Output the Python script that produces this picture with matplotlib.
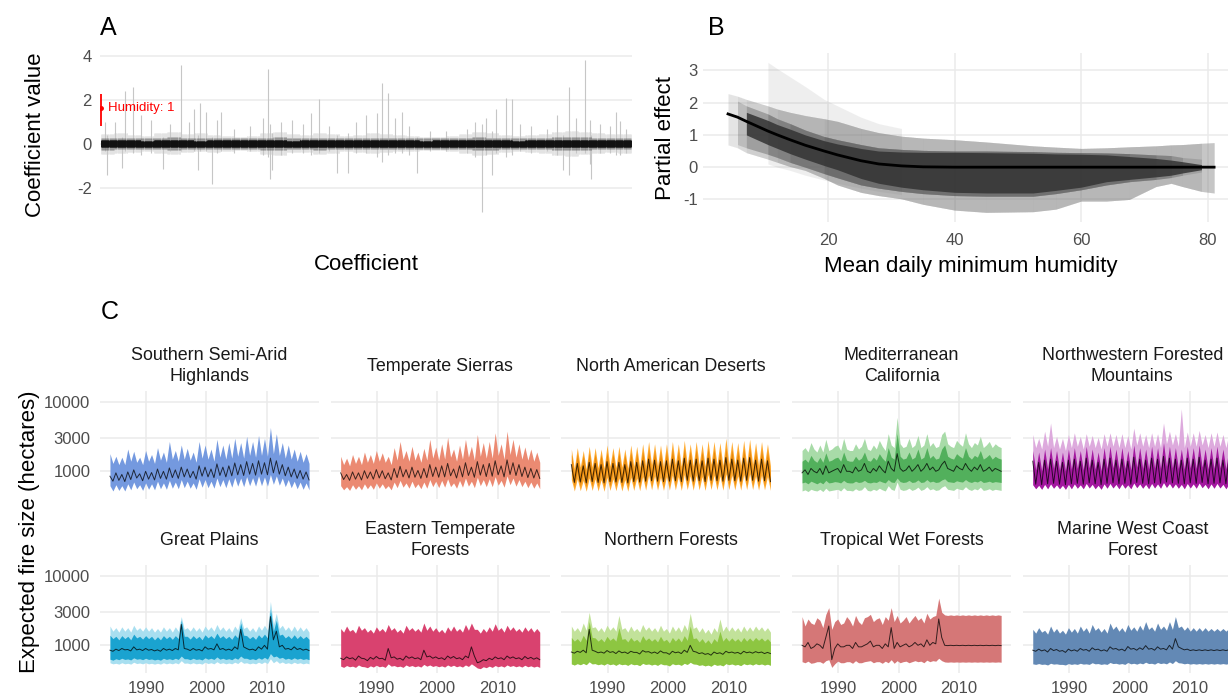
import numpy as np
import matplotlib
matplotlib.use("Agg")
import matplotlib.pyplot as plt

plt.rcParams['font.family'] = ['Liberation Sans', 'DejaVu Sans']
plt.rcParams['axes.unicode_minus'] = False

# ---------------- Panel A data ----------------
n_coef = 1000
n_chunks = 40
band_hi = [0.16, 0.16, 0.16, 0.15, 0.16, 0.16, 0.16, 0.15, 0.16, 0.16, 0.16, 0.16, 0.16, 0.16, 0.15, 0.16, 0.16, 0.16, 0.16, 0.16,
           0.16, 0.16, 0.16, 0.16, 0.15, 0.16, 0.16, 0.16, 0.16, 0.16, 0.16, 0.15, 0.16, 0.16, 0.16, 0.16, 0.16, 0.16, 0.16, 0.16]
band_lo = [-0.14, -0.14, -0.14, -0.14, -0.14, -0.14, -0.14, -0.13, -0.14, -0.14, -0.14, -0.14, -0.14, -0.14, -0.14, -0.14, -0.14, -0.14, -0.13, -0.14,
           -0.14, -0.14, -0.14, -0.14, -0.14, -0.14, -0.14, -0.14, -0.14, -0.14, -0.14, -0.14, -0.14, -0.14, -0.14, -0.14, -0.14, -0.14, -0.14, -0.14]
halo_hi = [0.28, 0.29, 0.28, 0.27, 0.28, 0.3, 0.29, 0.28, 0.28, 0.27, 0.26, 0.27, 0.29, 0.3, 0.28, 0.28, 0.29, 0.28, 0.27, 0.27,
           0.28, 0.28, 0.28, 0.27, 0.26, 0.26, 0.27, 0.28, 0.3, 0.29, 0.28, 0.27, 0.27, 0.28, 0.3, 0.31, 0.3, 0.29, 0.28, 0.28]
halo_lo = [-0.25, -0.24, -0.23, -0.22, -0.24, -0.25, -0.23, -0.22, -0.23, -0.22, -0.21, -0.22, -0.25, -0.26, -0.23, -0.23, -0.25, -0.24, -0.22, -0.23,
           -0.24, -0.23, -0.22, -0.22, -0.21, -0.21, -0.22, -0.24, -0.26, -0.25, -0.23, -0.22, -0.23, -0.24, -0.26, -0.27, -0.25, -0.24, -0.23, -0.24]
fuzz_hi = [0.45, 0.5, 0.42, 0.38, 0.48, 0.55, 0.45, 0.5, 0.42, 0.38, 0.34, 0.36, 0.5, 0.55, 0.45, 0.42, 0.5, 0.45, 0.36, 0.4,
           0.48, 0.45, 0.42, 0.36, 0.33, 0.33, 0.36, 0.45, 0.55, 0.5, 0.42, 0.36, 0.4, 0.45, 0.55, 0.6, 0.55, 0.5, 0.45, 0.45]
fuzz_lo = [-0.45, -0.4, -0.36, -0.32, -0.4, -0.45, -0.36, -0.32, -0.36, -0.32, -0.28, -0.32, -0.45, -0.5, -0.36, -0.36, -0.45, -0.4, -0.32, -0.36,
           -0.4, -0.36, -0.32, -0.32, -0.28, -0.28, -0.32, -0.4, -0.5, -0.45, -0.36, -0.32, -0.36, -0.4, -0.5, -0.55, -0.45, -0.4, -0.36, -0.4]
spike_idx = [8, 12, 27, 40, 45, 61, 75, 95, 117, 130, 150, 165, 175, 182, 186, 198, 210, 218, 226, 250,
             280, 305, 315, 318, 322, 340, 360, 380, 395, 411, 430, 444, 466, 480, 500, 520, 530, 541, 555, 568,
             580, 596, 620, 650, 690, 705, 718, 726, 737, 745, 764, 775, 790, 810, 840, 860, 871, 883, 895, 912,
             921, 923, 940, 960, 971, 979, 990]
spike_lo = [-0.3, -1.4, -0.2, -1.1, -0.3, -0.4, -0.5, -0.4, -1.15, -0.3, -0.3, -0.2, -0.3, -1.2, -0.3, -0.3, -1.8, -0.4, -0.3, -0.4,
            -0.3, -0.5, -0.6, -1.6, -1.2, -0.5, -0.4, -0.4, -0.5, -0.4, -0.3, -1.3, -1.3, -0.4, -0.4, -0.6, -0.8, -0.5, -0.4, -0.4,
            -0.5, -1.3, -0.3, -0.3, -0.4, -0.6, -3.1, -0.5, -1.4, -0.4, -0.6, -0.5, -0.3, -0.4, -0.3, -0.5, -1.2, -1.4, -0.4, -0.4,
            -0.9, -1.6, -0.4, -0.4, -0.5, -0.5, -0.4]
spike_hi = [1.0, 0.4, 1.0, 0.3, 2.4, 2.6, 1.3, 1.1, 0.3, 0.9, 3.57, 1.0, 1.6, 0.4, 1.85, 1.45, 0.3, 1.1, 1.45, 0.7,
            0.8, 1.2, 3.4, 0.9, 0.5, 1.0, 1.1, 0.9, 1.4, 2.05, 0.8, 0.4, 0.5, 1.0, 1.3, 1.4, 2.75, 2.3, 1.2, 1.45,
            0.8, 0.3, 0.6, 0.6, 0.7, 1.0, 0.9, 1.2, 0.6, 1.6, 2.1, 2.05, 0.9, 0.8, 0.7, 1.3, 0.4, 2.6, 1.2, 3.8,
            1.1, 0.4, 0.9, 0.8, 1.45, 1.05, 0.7]
humidity_coef = 1.65
humidity_lo = 0.82
humidity_hi = 2.27

# ---------------- Panel B data ----------------
hum_knots = [4.2, 5.7, 7.1, 10.5, 12, 14, 16.4, 19.4, 21.5, 25.2, 28, 31.6, 35, 40, 45, 52.4, 56, 60, 64, 67.6, 71.8, 74.2, 76, 79, 81]
effect_mean = [1.65, 1.55, 1.42, 1.12, 1.0, 0.85, 0.68, 0.5, 0.38, 0.2, 0.1, 0.04, 0.01, 0, 0, 0, 0, 0, 0, 0, 0, 0, 0, 0, 0]
outer_hi = [2.28, 2.2, 2.1, 1.9, 1.8, 1.7, 1.6, 1.5, 1.42, 1.2, 1.07, 0.96, 0.9, 0.85, 0.78, 0.66, 0.62, 0.58, 0.6, 0.63, 0.66, 0.69, 0.7, 0.74, 0.76]
outer_lo = [0.69, 0.6, 0.45, 0.25, 0.15, 0.02, -0.1, -0.35, -0.55, -0.78, -0.88, -0.98, -1.15, -1.33, -1.4, -1.38, -1.3, -1.05, -1.05, -1.0, -0.6, -0.5, -0.6, -0.75, -0.8]
mid_hi = [2.15, 2.05, 1.9, 1.65, 1.5, 1.35, 1.15, 0.95, 0.85, 0.7, 0.6, 0.55, 0.52, 0.5, 0.5, 0.48, 0.46, 0.45, 0.44, 0.42, 0.38, 0.36, 0.3, 0.25, 0.2]
mid_lo = [0.8, 0.7, 0.6, 0.4, 0.3, 0.15, 0.0, -0.2, -0.33, -0.55, -0.65, -0.75, -0.82, -0.88, -0.9, -0.9, -0.82, -0.7, -0.55, -0.45, -0.38, -0.32, -0.25, -0.15, -0.1]
dark_hi = [1.9, 1.8, 1.7, 1.45, 1.32, 1.18, 1.0, 0.82, 0.72, 0.58, 0.5, 0.47, 0.46, 0.46, 0.45, 0.43, 0.41, 0.4, 0.38, 0.33, 0.27, 0.22, 0.17, 0.08, 0.02]
dark_lo = [1.3, 1.15, 1.0, 0.7, 0.58, 0.42, 0.25, 0.05, -0.08, -0.35, -0.5, -0.62, -0.7, -0.78, -0.8, -0.8, -0.72, -0.62, -0.45, -0.38, -0.3, -0.25, -0.18, -0.08, -0.02]
tall_x = [10.5, 12, 14, 16.4, 19.4, 21.5, 25.2, 28, 31.6]
tall_hi = [3.25, 3.05, 2.8, 2.5, 2.1, 1.9, 1.55, 1.35, 1.2]
tall_lo = [0.1, 0.0, -0.1, -0.25, -0.4, -0.5, -0.65, -0.75, -0.85]
outer_segments = [(4.2, 21.5), (4.2, 16.4), (5.7, 31.6), (7.1, 25.2), (10.5, 40), (12, 35), (16.4, 52.4), (19.4, 45),
                  (21.5, 60), (25.2, 56), (31.6, 67.6), (35, 64), (40, 74.2), (45, 71.8), (52.4, 76), (56, 79),
                  (60, 81), (64, 81), (67.6, 79), (71.8, 81), (74.2, 81), (76, 81)]
mid_segments = [(5.7, 25.2), (7.1, 31.6), (10.5, 40), (14, 52.4), (19.4, 60), (25.2, 67.6), (31.6, 71.8),
                (40, 74.2), (52.4, 76), (60, 79)]
dark_segment = (7.1, 79)

# ---------------- Panel C data (two values per year, 1984-2017) ----------------
ssah_med = [850,720, 950,740, 900,710, 980,760, 1050,800, 920,730, 1000,770, 960,750,
            1080,790, 1000,770, 1120,810, 1050,790, 1150,830, 1080,810, 1000,770, 1200,850,
            1150,830, 1080,810, 1280,870, 1150,830, 1200,860, 1320,890, 1250,870, 1380,910,
            1300,880, 1420,910, 1330,890, 1550,950, 1420,910, 1250,860, 1150,830, 1080,790,
            1030,770, 980,750]
ssah_hi = [1800,1300, 1650,1250, 1600,1250, 2100,1400, 1950,1350, 1600,1250, 2000,1400, 1750,1300,
           2200,1450, 1900,1350, 2700,1500, 2000,1400, 2400,1500, 2150,1450, 1900,1350, 2700,1550,
           2400,1500, 2100,1400, 2900,1600, 2400,1500, 2600,1550, 3000,1650, 2600,1550, 3200,1700,
           2700,1600, 3300,1700, 3000,1650, 4300,1800, 3500,1700, 2600,1550, 2400,1500, 2100,1400,
           1950,1350, 1800,1300]
ssah_lo = [620,520, 640,530, 620,520, 660,540, 700,560, 640,530, 680,550, 660,540,
           720,560, 680,550, 740,570, 700,560, 760,580, 720,570, 680,550, 780,590,
           760,580, 720,570, 800,600, 760,580, 780,590, 820,610, 800,600, 840,620,
           810,610, 860,620, 830,610, 900,650, 860,630, 800,600, 760,580, 720,560,
           700,550, 680,540]

ts_med = [950,760, 900,740, 980,770, 950,750, 1020,790, 980,770, 1060,800, 1020,780,
          950,750, 1100,810, 1180,830, 1060,800, 1150,820, 1030,790, 1100,810, 1250,840,
          1150,820, 1200,830, 1300,860, 1080,800, 1200,830, 1330,870, 1150,820, 1380,880,
          1250,840, 1300,850, 1420,890, 1200,830, 1460,900, 1330,870, 1250,840, 1150,810,
          1100,800, 1060,790]
ts_hi = [1650,1250, 1550,1200, 1750,1300, 1650,1250, 1900,1350, 1750,1300, 2000,1400, 1850,1350,
         1650,1250, 2200,1450, 2700,1500, 2000,1400, 2300,1450, 1900,1350, 2150,1450, 2900,1550,
         2250,1450, 2500,1500, 3100,1600, 2100,1400, 2400,1500, 2900,1600, 2300,1450, 3400,1650,
         2600,1550, 2700,1550, 3600,1700, 2500,1500, 3800,1750, 2900,1600, 2500,1500, 2250,1450,
         2100,1400, 1900,1350]
ts_lo = [620,540, 600,530, 640,550, 620,540, 660,560, 640,550, 680,570, 660,560,
         620,540, 700,580, 740,590, 680,570, 720,580, 660,560, 700,570, 760,600,
         720,580, 740,590, 780,600, 680,570, 740,590, 800,610, 720,580, 820,620,
         760,600, 780,600, 840,630, 740,590, 860,640, 800,610, 760,600, 720,580,
         700,570, 680,560]

nad_med = [1250,690, 1300,700, 1200,680, 1350,710, 1300,690, 1250,680, 1380,710, 1300,700,
           1350,690, 1250,680, 1380,710, 1350,700, 1420,720, 1500,730, 1450,720, 1380,710,
           1420,720, 1500,730, 1420,710, 1550,740, 1450,720, 1500,730, 1420,710, 1550,740,
           1500,730, 1450,720, 1580,740, 1500,730, 1450,720, 1550,740, 1580,740, 1450,720,
           1500,730, 1420,710]
nad_hi = [2100,1100, 2200,1150, 2000,1080, 2300,1150, 2200,1120, 2100,1100, 2400,1180, 2200,1130,
          2300,1150, 2100,1100, 2400,1180, 2300,1150, 2500,1200, 2700,1250, 2500,1200, 2400,1180,
          2500,1200, 2700,1250, 2500,1180, 2800,1260, 2500,1200, 2700,1250, 2500,1180, 2800,1260,
          2700,1250, 2600,1220, 3000,1280, 2700,1250, 2600,1220, 2800,1260, 2900,1270, 2600,1220,
          2700,1250, 2500,1200]
nad_lo = [760,520, 780,525, 740,515, 800,530, 780,520, 760,515, 820,530, 780,525,
          800,520, 760,515, 820,530, 800,525, 840,535, 880,540, 860,535, 820,530,
          840,535, 880,540, 840,530, 900,545, 860,535, 880,540, 840,530, 900,545,
          880,540, 860,535, 920,545, 880,540, 860,535, 900,545, 920,545, 860,535,
          880,540, 840,530]
nad_mid_hi = [1750,900, 1800,910, 1700,890, 1850,920, 1800,900, 1750,890, 1900,920, 1800,910,
              1850,900, 1750,890, 1900,920, 1850,910, 1950,930, 2100,950, 2000,930, 1900,920,
              1950,930, 2100,950, 1950,920, 2150,960, 2000,930, 2100,950, 1950,920, 2150,960,
              2100,950, 2000,930, 2200,960, 2100,950, 2000,930, 2150,960, 2200,960, 2000,930,
              2100,950, 1950,920]
nad_mid_lo = [1000,600, 1020,605, 960,595, 1050,610, 1020,600, 1000,595, 1080,610, 1020,605,
              1050,600, 1000,595, 1080,610, 1050,605, 1120,615, 1200,625, 1150,615, 1080,610,
              1120,615, 1200,625, 1120,610, 1230,630, 1150,615, 1200,625, 1120,610, 1230,630,
              1200,625, 1150,615, 1280,630, 1200,625, 1150,615, 1230,630, 1280,630, 1150,615,
              1200,625, 1120,610]

mc_med = [950,1050, 900,1100, 1000,950, 1100,900, 1200,950, 1000,1050, 1100,950, 1250,1000,
          1000,950, 1150,1000, 1050,1300, 1000,950, 1100,1000, 1200,1050, 950,1400, 1100,1000,
          1800,1100, 1000,1050, 1200,1000, 1100,1250, 1000,1100, 1300,1050, 1150,1000, 1050,1250,
          1400,1100, 1050,1000, 1200,1100, 1050,1300, 1100,1000, 1150,1050, 1250,1000, 1050,1150,
          1000,1100, 1050,1000]
mc_hi = [2000,2200, 1900,2600, 2100,1900, 2400,1900, 2900,2000, 2100,2300, 2400,2000, 3000,2100,
         2000,2000, 2500,2100, 2300,3000, 2100,2000, 2400,2100, 2800,2300, 2000,3500, 2400,2200,
         6000,2500, 2200,2300, 3000,2200, 2400,3300, 2200,2400, 3500,2300, 2600,2200, 2300,3400,
         3800,2500, 2300,2200, 2800,2500, 2300,3600, 2500,2200, 2600,2400, 3200,2200, 2400,2700,
         2200,2500, 2300,2200]
mc_lo = [520,540, 510,550, 530,520, 550,510, 570,520, 530,540, 550,520, 580,530,
         530,520, 560,530, 540,600, 530,520, 550,530, 570,540, 520,620, 550,530,
         700,550, 530,540, 570,530, 550,590, 530,550, 600,540, 560,530, 540,590,
         620,550, 540,530, 570,550, 540,600, 550,530, 560,540, 590,530, 540,560,
         530,550, 540,530]
mc_mid_hi = [1400,1500, 1350,1700, 1450,1350, 1600,1350, 1850,1400, 1450,1550, 1600,1400, 1900,1450,
             1400,1400, 1650,1450, 1550,1900, 1450,1400, 1600,1450, 1800,1550, 1400,2200, 1600,1500,
             3500,1650, 1500,1550, 1900,1500, 1600,2100, 1500,1600, 2200,1550, 1700,1500, 1550,2100,
             2400,1650, 1550,1500, 1800,1650, 1550,2200, 1650,1500, 1700,1600, 2000,1500, 1600,1750,
             1500,1650, 1550,1500]
mc_mid_lo = [680,700, 660,720, 690,660, 700,660, 740,680, 690,710, 700,680, 740,690,
             680,680, 720,690, 700,740, 690,680, 700,690, 730,700, 680,760, 700,690,
             800,710, 690,700, 740,690, 700,750, 690,700, 760,700, 720,690, 700,750,
             780,710, 700,690, 730,710, 700,760, 710,690, 720,700, 740,690, 700,720,
             690,710, 700,690]

nwfm_med = [1400,650, 1350,640, 1450,660, 1500,670, 1400,650, 1350,640, 1450,660, 1500,670,
            1400,650, 1550,680, 1450,660, 1350,640, 1500,670, 1550,680, 1450,660, 1500,670,
            1400,650, 1600,690, 1500,670, 1450,660, 1550,680, 1500,670, 1650,700, 1550,680,
            1500,670, 1450,660, 1550,680, 1500,670, 1600,690, 1450,660, 1500,670, 1550,680,
            1450,660, 1500,670]
nwfm_hi = [3400,2200, 3000,2100, 3800,2300, 5000,2200, 3200,2100, 3000,2000, 3400,2200, 3600,2300,
           3200,2100, 3500,2300, 3300,2200, 3100,2100, 3500,2300, 3600,2300, 3400,2200, 3500,2200,
           3300,2100, 4200,2400, 3600,2300, 3400,2200, 3600,2300, 3500,2200, 5000,2500, 3800,2400,
           3500,2300, 8000,2200, 3700,2300, 3600,2300, 3900,2400, 3400,2200, 3600,2300, 3700,2300,
           3400,2200, 3500,2200]
nwfm_lo = [640,560, 630,550, 650,560, 660,570, 640,560, 630,550, 650,560, 660,570,
           640,560, 670,575, 650,560, 630,550, 660,570, 670,575, 650,560, 660,570,
           640,560, 680,580, 660,570, 650,560, 670,575, 660,570, 690,585, 670,575,
           660,570, 650,560, 670,575, 660,570, 680,580, 650,560, 660,570, 670,575,
           650,560, 660,570]
nwfm_mid_hi = [2000,1050, 1900,1020, 2100,1080, 2200,1100, 2000,1050, 1900,1020, 2100,1080, 2200,1100,
               2000,1050, 2300,1120, 2100,1080, 1900,1020, 2200,1100, 2300,1120, 2100,1080, 2200,1100,
               2000,1050, 2400,1150, 2200,1100, 2100,1080, 2300,1120, 2200,1100, 2600,1180, 2300,1120,
               2200,1100, 2100,1080, 2300,1120, 2200,1100, 2400,1150, 2100,1080, 2200,1100, 2300,1120,
               2100,1080, 2200,1100]

gp_med = [850,820, 880,840, 900,860, 870,830, 950,860, 880,840, 900,850, 870,830,
          860,820, 900,850, 880,840, 900,860, 2000,900, 880,840, 900,850, 870,830,
          950,880, 900,860, 1050,870, 900,850, 880,840, 950,880, 1700,950, 900,860,
          880,840, 950,880, 1000,880, 2600,1200, 1600,950, 1000,880, 900,860, 950,870,
          900,850, 880,840]
gp_hi = [1900,1600, 1800,1550, 1850,1600, 1800,1550, 1950,1650, 1800,1600, 1850,1600, 1800,1550,
         1750,1550, 1850,1600, 1800,1550, 1850,1600, 2600,1700, 1800,1600, 1850,1600, 1800,1550,
         1900,1650, 1850,1600, 2000,1650, 1850,1600, 1800,1550, 1900,1650, 2500,1750, 1850,1600,
         1800,1550, 1900,1650, 1950,1650, 4300,2000, 2900,1750, 1950,1650, 1850,1600, 1900,1600,
         1850,1600, 1800,1550]
gp_lo = [560,540, 550,535, 560,540, 550,535, 570,545, 555,540, 560,540, 550,535,
         550,535, 560,540, 555,540, 560,540, 600,550, 555,540, 560,540, 550,535,
         570,545, 560,540, 580,545, 560,540, 555,540, 570,545, 590,550, 560,540,
         555,540, 570,545, 575,545, 640,560, 600,550, 575,545, 560,540, 570,545,
         560,540, 555,540]
gp_mid_hi = [1400,1250, 1350,1200, 1380,1250, 1350,1200, 1450,1280, 1350,1230, 1380,1250, 1350,1200,
             1330,1200, 1380,1250, 1350,1220, 1380,1250, 2300,1350, 1350,1230, 1380,1250, 1350,1200,
             1420,1280, 1380,1250, 1500,1280, 1380,1250, 1350,1220, 1420,1280, 2100,1400, 1380,1250,
             1350,1220, 1420,1280, 1450,1280, 3300,1600, 2300,1400, 1450,1280, 1380,1250, 1420,1250,
             1380,1250, 1350,1220]
gp_mid_lo = [630,610, 640,620, 650,625, 635,615, 660,630, 640,620, 650,625, 635,615,
             630,610, 650,625, 640,620, 650,625, 700,640, 640,620, 650,625, 635,615,
             660,630, 650,625, 680,630, 650,625, 640,620, 660,630, 700,650, 650,625,
             640,620, 660,630, 670,630, 760,680, 700,650, 670,630, 650,625, 660,630,
             650,625, 640,620]

etf_med = [650,620, 680,640, 660,610, 700,650, 640,600, 670,630, 690,640, 650,610,
           900,660, 680,630, 650,610, 700,650, 680,640, 660,620, 850,680, 700,650,
           680,640, 660,620, 700,650, 690,640, 660,620, 700,660, 950,700, 560,580,
           620,600, 650,620, 680,640, 660,620, 700,650, 680,640, 660,620, 690,640,
           670,630, 660,620]
etf_hi = [1750,1550, 1900,1600, 1700,1500, 1950,1650, 1800,1550, 1700,1500, 1850,1600, 1750,1550,
          2000,1650, 1800,1550, 1700,1500, 1950,1650, 1800,1600, 1750,1550, 2100,1650, 1900,1600,
          1800,1550, 1700,1500, 1850,1600, 1900,1600, 1750,1550, 2000,1650, 2100,1700, 1700,1500,
          1750,1550, 1850,1600, 2050,1650, 1800,1550, 1950,1650, 1850,1600, 1750,1550, 1850,1600,
          1800,1550, 1750,1550]
etf_lo = [500,480, 510,490, 500,480, 520,495, 490,475, 505,485, 515,490, 500,480,
          540,500, 510,490, 500,480, 520,495, 510,490, 505,485, 530,500, 520,495,
          510,490, 505,485, 520,495, 515,490, 505,485, 520,495, 540,505, 470,460,
          490,475, 500,480, 510,490, 505,485, 520,495, 510,490, 505,485, 515,490,
          505,485, 500,480]

nf_med = [800,770, 820,790, 850,780, 1700,850, 820,780, 800,770, 840,790, 810,760,
          830,780, 800,760, 820,790, 790,750, 840,800, 810,770, 800,760, 830,780,
          780,740, 820,780, 800,760, 850,790, 1000,820, 800,760, 780,740, 760,720,
          800,760, 780,740, 820,780, 800,770, 790,750, 820,780, 800,770, 810,780,
          800,760, 790,760]
nf_hi = [1900,1600, 1800,1550, 2100,1650, 3000,1800, 1850,1600, 1800,1550, 1950,1650, 1850,1600,
         2700,1700, 1800,1550, 1900,1600, 1750,1550, 2000,1650, 1850,1600, 1800,1550, 1950,1600,
         1750,1500, 1900,1600, 1850,1550, 2000,1650, 2900,1750, 1850,1550, 1800,1500, 1700,1450,
         1800,1550, 2400,1600, 1900,1600, 1850,1600, 1800,1550, 1900,1600, 1850,1600, 1900,1650,
         1850,1600, 1800,1550]
nf_lo = [540,520, 545,525, 550,525, 580,540, 545,525, 540,520, 550,525, 540,515,
         545,525, 535,515, 545,525, 530,510, 550,530, 540,520, 535,515, 545,525,
         525,505, 545,525, 535,515, 550,530, 570,540, 535,515, 525,505, 520,500,
         535,515, 525,505, 545,525, 540,520, 530,510, 545,525, 540,520, 545,525,
         540,520, 535,515]
nf_mid_hi = [1300,1150, 1250,1120, 1400,1180, 2200,1300, 1280,1150, 1250,1120, 1350,1180, 1280,1150,
             1800,1220, 1250,1120, 1300,1150, 1220,1100, 1380,1180, 1280,1150, 1250,1120, 1350,1150,
             1220,1080, 1300,1150, 1280,1120, 1380,1180, 1900,1250, 1280,1120, 1250,1080, 1200,1050,
             1250,1120, 1600,1150, 1300,1150, 1280,1150, 1250,1120, 1300,1150, 1280,1150, 1300,1180,
             1280,1150, 1250,1120]

twf_med = [1000,950, 1100,900, 950,1050, 1000,900, 1300,1900, 620,900, 1050,950, 950,1000,
           1000,900, 1100,950, 950,1000, 1050,1150, 950,1000, 1000,900, 1050,950, 1800,900,
           1100,950, 1000,1050, 950,1000, 1100,1000, 1050,950, 1200,1000, 1100,1050, 2400,1300,
           1000,990, 1000,990, 1000,990, 1000,990, 1000,990, 1000,990, 1000,990, 1000,990,
           1000,990, 1000,990]
twf_hi = [2600,1900, 2400,2100, 2000,2500, 2300,1800, 2800,3500, 1700,2200, 2400,2000, 2100,2600,
          2300,1900, 2700,2200, 2000,2500, 2600,2800, 2200,2400, 2500,2000, 2600,2300, 3500,2200,
          2700,2100, 2300,2600, 2100,2400, 2700,2300, 2500,2100, 2900,2400, 2600,2700, 4800,3000,
          2750,2700, 2750,2700, 2750,2700, 2750,2700, 2750,2700, 2750,2700, 2750,2700, 2750,2700,
          2750,2700, 2750,2700]
twf_lo = [580,560, 590,550, 560,580, 580,550, 600,620, 480,540, 590,560, 560,580,
          580,550, 600,560, 560,580, 590,600, 560,580, 580,550, 590,560, 620,550,
          600,560, 580,590, 560,580, 600,580, 590,560, 610,580, 600,590, 650,600,
          575,570, 575,570, 575,570, 575,570, 575,570, 575,570, 575,570, 575,570,
          575,570, 575,570]

mwcf_med = [850,820, 880,830, 860,800, 900,840, 870,820, 840,790, 880,830, 860,820,
            900,850, 870,820, 920,860, 880,830, 860,820, 950,880, 900,850, 880,830,
            960,880, 900,850, 920,870, 990,880, 900,850, 950,880, 900,860, 1000,880,
            1250,950, 900,860, 880,840, 860,840, 860,840, 860,840, 860,840, 860,840,
            860,840, 860,840]
mwcf_hi = [1700,1500, 1800,1550, 1650,1450, 1900,1550, 1750,1500, 1650,1450, 1800,1550, 1750,1500,
           1900,1600, 1800,1500, 2000,1650, 1800,1550, 1750,1500, 2100,1700, 1900,1600, 1800,1550,
           2000,1650, 1850,1600, 1950,1650, 2200,1700, 1850,1600, 2100,1700, 1900,1650, 2200,1700,
           2600,1800, 1900,1650, 1850,1600, 1800,1600, 1800,1600, 1800,1600, 1750,1600, 1750,1600,
           1750,1600, 1750,1600]
mwcf_lo = [540,530, 545,530, 535,520, 550,535, 540,530, 530,520, 545,530, 540,530,
           550,535, 540,530, 560,540, 545,530, 540,530, 565,545, 550,535, 545,530,
           565,540, 550,535, 555,540, 570,545, 550,535, 565,545, 555,540, 575,545,
           600,560, 555,540, 550,535, 545,535, 545,535, 545,535, 545,535, 545,535,
           545,535, 545,535]

region_names = ["Southern Semi-Arid\nHighlands", "Temperate Sierras", "North American Deserts",
                "Mediterranean\nCalifornia", "Northwestern Forested\nMountains", "Great Plains",
                "Eastern Temperate\nForests", "Northern Forests", "Tropical Wet Forests",
                "Marine West Coast\nForest"]
year_ticks = [1990, 2000, 2010]
y_ticks_c = [1000, 3000, 10000]

# layers: (lo, hi, color)
panels = [
    (ssah_med, [(ssah_lo, ssah_hi, '#7499df')]),
    (ts_med, [(ts_lo, ts_hi, '#eb8a72')]),
    (nad_med, [(nad_lo, nad_hi, '#ffac33'), (nad_mid_lo, nad_mid_hi, '#e8890c')]),
    (mc_med, [(mc_lo, mc_hi, '#a8dba8'), (mc_mid_lo, mc_mid_hi, '#52b05c')]),
    (nwfm_med, [(nwfm_lo, nwfm_hi, '#ddaadd'), (nwfm_lo, nwfm_mid_hi, '#a3189f')]),
    (gp_med, [(gp_lo, gp_hi, '#a8dff0'), (gp_mid_lo, gp_mid_hi, '#1aa3d0')]),
    (etf_med, [(etf_lo, etf_hi, '#d9426f')]),
    (nf_med, [(nf_lo, nf_hi, '#c2e29a'), (nf_lo, nf_mid_hi, '#8dc641')]),
    (twf_med, [(twf_lo, twf_hi, '#d57777')]),
    (mwcf_med, [(mwcf_lo, mwcf_hi, '#6389b5')]),
]

# ---------------- Figure ----------------
W, H = 1228, 700
fig = plt.figure(figsize=(W / 100, H / 100), dpi=100)
GRID = '#ebebeb'
TICKC = '#4d4d4d'
TITLE_FS = 16
TICK_FS = 12


def add_ax(l, t, r, b):
    return fig.add_axes([l / W, 1 - b / H, (r - l) / W, (b - t) / H])


def style(ax):
    for s in ax.spines.values():
        s.set_visible(False)
    ax.tick_params(length=0, colors=TICKC, labelsize=TICK_FS)
    ax.grid(True, color=GRID, lw=1.1)
    ax.set_axisbelow(True)


# Panel A: every coefficient drawn as a vertical interval; chunk values assigned per coefficient
axA = add_ax(100, 49.4, 632, 221)
style(axA)
axA.grid(False, axis='x')
coef_x = np.arange(n_coef)
per_chunk = n_coef // n_chunks
axA.vlines(coef_x, np.repeat(fuzz_lo, per_chunk), np.repeat(fuzz_hi, per_chunk), color='#e3e3e3', lw=0.6)
axA.vlines(spike_idx, spike_lo, spike_hi, color='#c6c6c6', lw=0.8)
axA.vlines(coef_x, np.repeat(halo_lo, per_chunk), np.repeat(halo_hi, per_chunk), color='#5a5a5a', lw=0.6, alpha=0.4)
axA.vlines(coef_x, np.repeat(band_lo, per_chunk), np.repeat(band_hi, per_chunk), color='#111111', lw=0.7)
axA.vlines([0.8], [humidity_lo], [humidity_hi], color='red', lw=1.3)
axA.plot([0.8], [humidity_coef], 'o', color='red', ms=2.5)
axA.text(14, humidity_coef, 'Humidity: 1', color='red', fontsize=9.5, va='center', ha='left')
axA.set_xlim(-2, 1001)
axA.set_ylim(-3.5, 4.3)
axA.set_yticks([-2, 0, 2, 4])
axA.set_xticks([])
axA.tick_params(axis='y', pad=6)
axA.set_xlabel('Coefficient', fontsize=TITLE_FS, labelpad=24)
axA.set_ylabel('Coefficient value', fontsize=TITLE_FS, labelpad=22)

# Panel B
axB = add_ax(702.7, 53.3, 1238.8, 222)
style(axB)
kx = np.array(hum_knots)


def seg_fill(ax, x0, x1, lo, hi, **kw):
    m = (kx >= x0 - 1e-9) & (kx <= x1 + 1e-9)
    ax.fill_between(kx[m], np.array(lo)[m], np.array(hi)[m], lw=0, **kw)


for x0, x1 in outer_segments:
    seg_fill(axB, x0, x1, outer_lo, outer_hi, color='#7a7a7a', alpha=0.10)
axB.fill_between(tall_x, tall_lo, tall_hi, color='#7a7a7a', alpha=0.12, lw=0)
for x0, x1 in mid_segments:
    seg_fill(axB, x0, x1, mid_lo, mid_hi, color='#555555', alpha=0.22)
seg_fill(axB, dark_segment[0], dark_segment[1], dark_lo, dark_hi, color='#333333', alpha=0.85)
axB.plot(hum_knots, effect_mean, color='black', lw=2.0)
axB.set_xlim(0.2, 84.9)
axB.set_ylim(-1.7, 3.53)
axB.set_xticks([20, 40, 60, 80])
axB.set_yticks([-1, 0, 1, 2, 3])
axB.tick_params(axis='x', pad=8)
axB.set_xlabel('Mean daily minimum humidity', fontsize=TITLE_FS, labelpad=6)
axB.set_ylabel('Partial effect', fontsize=TITLE_FS, labelpad=5)

fig.text(100 / W, 1 - 28 / H, 'A', fontsize=18, va='center', ha='left')
fig.text(708 / W, 1 - 28 / H, 'B', fontsize=18, va='center', ha='left')
fig.text(101 / W, 1 - 312 / H, 'C', fontsize=18, va='center', ha='left')

# Panel C
t = np.linspace(1984, 2017, len(ssah_med))
col_left = [100 + k * 230.7 for k in range(5)]
row_top = [391, 565]
for i, (med, layers) in enumerate(panels):
    r, c = divmod(i, 5)
    l = col_left[c]
    tp = row_top[r]
    ax = add_ax(l, tp, l + 219, tp + 108)
    style(ax)
    for lo, hi, colr in layers:
        ax.fill_between(t, lo, hi, color=colr, lw=0)
    ax.plot(t, med, color='black', lw=0.7, alpha=0.75)
    ax.set_yscale('log')
    ax.set_ylim(10 ** 2.60, 10 ** 4.16)
    ax.set_xlim(1982.35, 2018.65)
    ax.set_yticks(y_ticks_c)
    ax.minorticks_off()
    ax.set_xticks(year_ticks)
    ax.set_yticklabels([str(v) for v in y_ticks_c] if c == 0 else [])
    ax.set_xticklabels([str(v) for v in year_ticks] if r == 1 else [])
    ax.tick_params(axis='y', pad=7)
    ax.tick_params(axis='x', pad=6)
    ax.text(0.5, 1.23, region_names[i], transform=ax.transAxes, ha='center', va='center',
            fontsize=12.9, color='#1a1a1a', linespacing=1.3)

fig.text(30 / W, 1 - 532 / H, 'Expected fire size (hectares)', rotation=90, fontsize=TITLE_FS,
         va='center', ha='center')

fig.savefig('out.png', dpi=100)
